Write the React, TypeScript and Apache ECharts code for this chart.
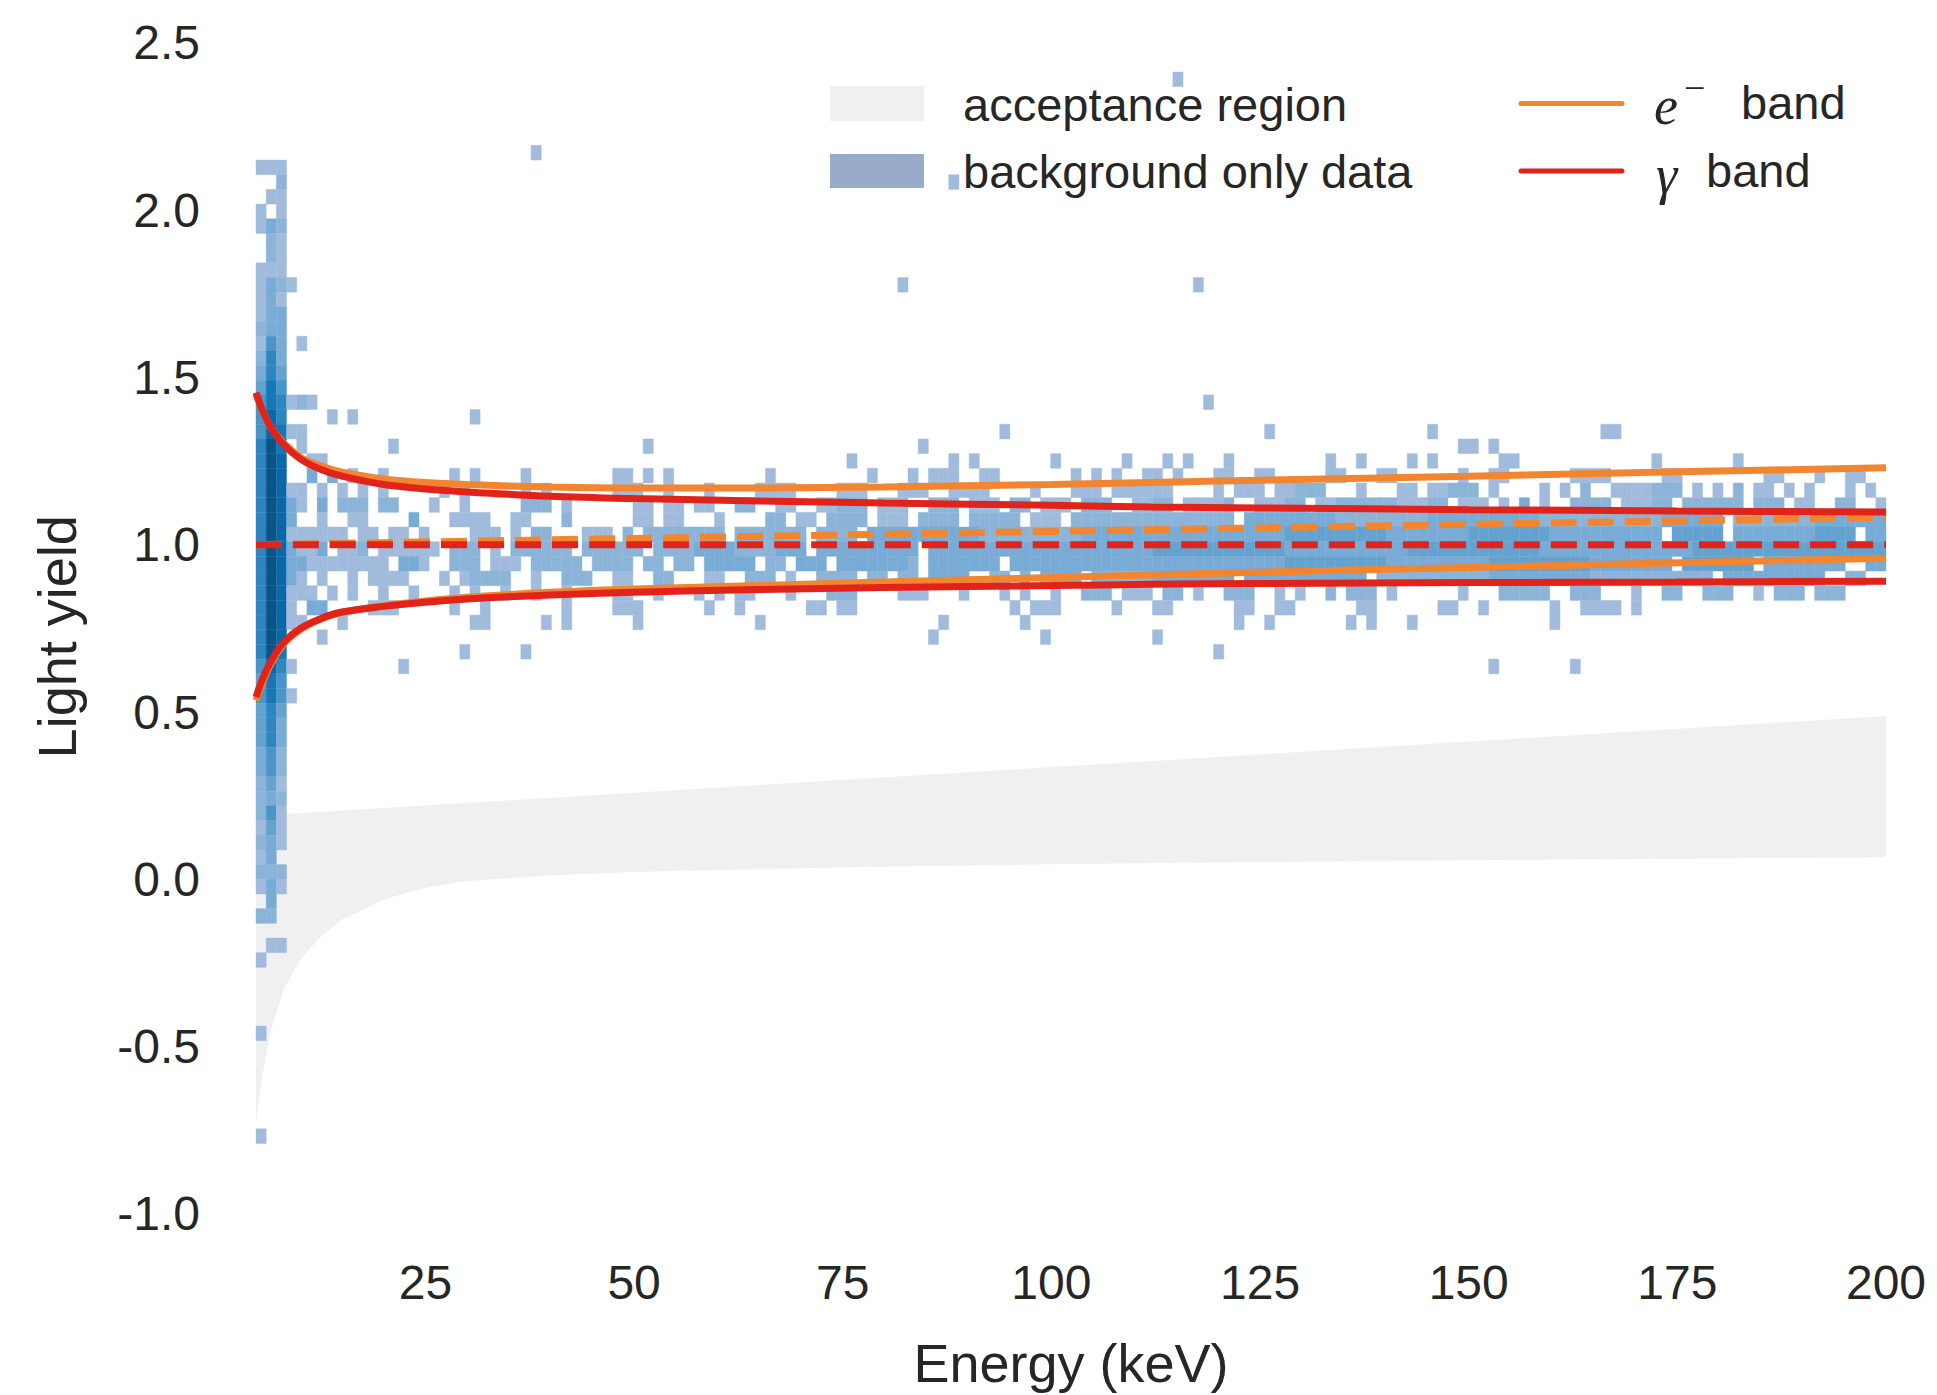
import React, { useEffect, useRef } from 'react';
import * as echarts from 'echarts';

// ---------- axes ----------
const X_MIN = 4.7;
const X_MAX = 200;
const Y_MIN = -1.05;
const Y_MAX = 2.5;
const X_TICKS = [25, 50, 75, 100, 125, 150, 175, 200];
const Y_TICKS = [-1.0, -0.5, 0.0, 0.5, 1.0, 1.5, 2.0, 2.5];

// ---------- 2D histogram binning ----------
const N_COLS = 160;
const BIN_W = (X_MAX - X_MIN) / N_COLS;
const Y_ORIGIN = -0.7894;
const BIN_H = 0.04387;
const PALETTE = ['#a0bbdc', '#8cb4d9', '#78abd5', '#64a2cf', '#4a95c8', '#2e86c1', '#1677b7', '#0a68a9', '#0b5488'];

// low-energy columns: [row index, cells from column 0; '.' = empty, digit = colour level]
const HIST_ROWS: [number, string][] = [
  [66, '111'],
  [65, '..2'],
  [64, '.11'],
  [63, '1.1'],
  [62, '132'],
  [61, '.21'],
  [60, '.21'],
  [59, '111'],
  [58, '1321'],
  [57, '131'],
  [56, '133'],
  [55, '233'],
  [54, '153.1'],
  [53, '263'],
  [52, '364'],
  [51, '475'],
  [50, '576121'],
  [49, '586....1.1'],
  [48, '58711'],
  [47, '697.1........1'],
  [46, '698..11'],
  [45, '698..3.3.1..1'],
  [44, '69811.1.1.1.1.....1'],
  [43, '69831.3.222.22...1'],
  [42, '6983..1..11....3'],
  [41, '698111111.11.11.1'],
  [40, '6983113.112.111111'],
  [39, '6983311111111.331'],
  [38, '69831.1..1.1111...1'],
  [37, '698111.1.1..1..1'],
  [36, '6981.33....111'],
  [35, '69811...1'],
  [34, '698...1'],
  [33, '697'],
  [32, '5861..........1'],
  [31, '475'],
  [30, '5751'],
  [29, '464'],
  [28, '463'],
  [27, '463'],
  [26, '352'],
  [25, '352'],
  [24, '241'],
  [23, '232'],
  [22, '251'],
  [21, '141'],
  [20, '231'],
  [19, '13.'],
  [18, '222'],
  [17, '131'],
  [16, '.3.'],
  [15, '22.'],
  [13, '.11'],
  [12, '1'],
  [7, '1'],
  [0, '1'],
];

// main band, columns 19..159: [row, [[first column, last column, level], ...]]
const BAND_RUNS: [number, [number, number, number][]][] = [
  [47, [[38, 38, 1], [118, 119, 1], [121, 121, 1]]],
  [46, [[58, 58, 1], [68, 68, 1], [70, 70, 1], [78, 78, 1], [85, 85, 1], [89, 89, 1], [91, 91, 1], [95, 95, 1], [105, 105, 1], [108, 108, 1], [113, 113, 1], [115, 115, 1], [122, 123, 1], [137, 137, 1], [145, 145, 1]]],
  [45, [[19, 19, 1], [21, 21, 1], [26, 26, 1], [35, 36, 1], [38, 38, 1], [40, 40, 1], [50, 50, 1], [60, 60, 1], [64, 64, 1], [66, 68, 1], [71, 72, 1], [80, 80, 1], [82, 82, 1], [84, 84, 1], [87, 88, 1], [90, 90, 1], [94, 95, 1], [98, 99, 1], [105, 106, 1], [110, 111, 1], [118, 118, 1], [121, 122, 1], [129, 132, 1], [138, 139, 1], [148, 149, 1], [153, 153, 1], [156, 157, 1]]],
  [44, [[20, 20, 1], [26, 26, 1], [28, 28, 1], [35, 37, 1], [40, 40, 1], [44, 44, 1], [49, 52, 1], [57, 59, 1], [63, 65, 1], [68, 71, 1], [76, 76, 1], [80, 82, 1], [84, 89, 1], [94, 94, 1], [96, 98, 1], [100, 101, 1], [102, 104, 2], [108, 108, 1], [112, 113, 1], [115, 116, 1], [117, 119, 2], [121, 121, 1], [126, 126, 1], [128, 128, 1], [130, 130, 2], [133, 136, 1], [137, 139, 2], [141, 141, 1], [143, 143, 1], [145, 145, 2], [147, 148, 1], [150, 150, 1], [152, 152, 1], [156, 156, 1], [158, 158, 1]]],
  [43, [[20, 20, 1], [26, 28, 2], [30, 30, 1], [37, 38, 1], [40, 41, 1], [43, 44, 1], [47, 48, 2], [51, 52, 1], [55, 56, 1], [57, 59, 2], [61, 63, 1], [66, 68, 2], [70, 72, 1], [74, 75, 2], [77, 79, 1], [81, 83, 2], [86, 87, 1], [88, 89, 2], [91, 94, 1], [95, 95, 2], [98, 100, 1], [101, 102, 2], [104, 105, 1], [106, 111, 2], [112, 114, 1], [115, 116, 2], [118, 120, 1], [122, 122, 1], [124, 124, 3], [126, 126, 1], [129, 132, 2], [134, 136, 1], [137, 138, 2], [140, 145, 2], [147, 149, 2], [151, 152, 1], [155, 156, 2], [159, 159, 1]]],
  [42, [[19, 22, 1], [25, 26, 1], [30, 30, 2], [37, 38, 1], [40, 41, 1], [45, 45, 1], [50, 51, 2], [53, 54, 1], [56, 59, 2], [61, 63, 1], [65, 68, 2], [70, 74, 2], [76, 78, 1], [80, 87, 2], [88, 95, 2], [97, 105, 3], [106, 114, 2], [115, 125, 3], [126, 137, 2], [138, 143, 3], [145, 152, 2], [153, 159, 3]]],
  [41, [[21, 23, 1], [25, 25, 1], [27, 28, 2], [32, 34, 1], [36, 36, 2], [38, 45, 2], [47, 53, 2], [55, 58, 2], [60, 70, 3], [71, 80, 2], [81, 87, 3], [88, 100, 3], [101, 110, 4], [111, 118, 3], [119, 126, 4], [127, 137, 3], [139, 143, 4], [145, 152, 3], [153, 156, 4], [158, 159, 3]]],
  [40, [[19, 21, 2], [23, 23, 1], [25, 30, 2], [32, 37, 2], [39, 42, 2], [43, 46, 3], [47, 50, 2], [51, 53, 3], [55, 64, 3], [66, 74, 3], [75, 87, 3], [88, 100, 4], [101, 112, 3], [113, 125, 4], [126, 140, 3], [141, 150, 4], [151, 159, 4]]],
  [39, [[19, 21, 2], [23, 25, 1], [27, 31, 2], [33, 36, 2], [38, 39, 2], [41, 42, 2], [44, 48, 3], [50, 51, 2], [53, 55, 3], [57, 63, 3], [64, 64, 2], [66, 72, 3], [74, 87, 3], [88, 100, 3], [101, 110, 4], [111, 120, 3], [121, 130, 4], [131, 138, 3], [140, 146, 4], [148, 155, 3], [158, 159, 3]]],
  [38, [[20, 20, 1], [21, 24, 2], [27, 27, 1], [30, 32, 2], [35, 36, 1], [39, 40, 2], [44, 45, 1], [48, 50, 2], [52, 52, 1], [55, 58, 2], [60, 61, 2], [63, 64, 2], [66, 69, 3], [72, 73, 2], [75, 75, 2], [77, 80, 3], [82, 87, 2], [88, 95, 3], [97, 108, 3], [110, 120, 2], [121, 130, 3], [131, 142, 2], [144, 153, 3], [156, 157, 2]]],
  [37, [[19, 19, 1], [21, 21, 1], [24, 24, 1], [27, 27, 1], [30, 30, 1], [35, 36, 1], [39, 39, 1], [43, 43, 1], [45, 45, 1], [47, 48, 1], [52, 52, 1], [56, 58, 2], [63, 65, 1], [69, 69, 1], [73, 73, 1], [75, 75, 1], [78, 78, 1], [81, 83, 2], [85, 87, 1], [89, 90, 2], [92, 92, 1], [95, 97, 2], [100, 100, 1], [102, 102, 1], [105, 105, 2], [107, 109, 2], [111, 111, 1], [118, 118, 1], [122, 126, 2], [129, 131, 2], [135, 135, 1], [138, 139, 2], [142, 144, 2], [147, 147, 1], [149, 151, 2], [153, 155, 2]]],
  [36, [[19, 19, 1], [22, 22, 1], [30, 30, 1], [35, 37, 1], [44, 44, 1], [47, 47, 1], [54, 55, 1], [57, 58, 1], [74, 74, 1], [76, 78, 1], [84, 84, 1], [88, 89, 1], [96, 97, 1], [100, 101, 1], [108, 109, 1], [116, 117, 1], [120, 120, 1], [127, 127, 1], [130, 133, 1], [135, 135, 1]]],
  [35, [[21, 22, 1], [28, 28, 1], [30, 30, 1], [49, 49, 1], [67, 67, 1], [75, 75, 1], [96, 96, 1], [99, 99, 1], [107, 107, 1], [109, 109, 1], [113, 113, 1], [127, 127, 1]]],
  [34, [[66, 66, 1]]],
];

// isolated cells: [column, row, level]
const OUTLIERS: [number, number, number][] = [
  [27, 67, 1], [90, 72, 1], [68, 65, 1], [63, 58, 1], [92, 58, 1], [93, 50, 1],
  [99, 48, 1], [21, 49, 1], [65, 47, 1], [73, 48, 1], [115, 48, 1], [132, 48, 1], [133, 48, 1],
  [20, 33, 1], [26, 33, 1], [37, 35, 1], [77, 34, 1], [88, 34, 1], [94, 33, 1], [121, 32, 1], [129, 32, 1],
];

// ---------- bands ----------
const BAND_E = [4.7, 5.5, 6.5, 8, 10, 12.5, 15, 20, 25, 30, 40, 50, 65, 80, 100, 112, 125, 150, 175, 200];
const GAMMA_UPPER = [1.455, 1.4, 1.35, 1.3, 1.257, 1.225, 1.205, 1.18, 1.167, 1.158, 1.145, 1.138, 1.131, 1.125, 1.118, 1.113, 1.11, 1.105, 1.101, 1.098];
const GAMMA_LOWER = [0.545, 0.6, 0.652, 0.708, 0.75, 0.78, 0.799, 0.816, 0.828, 0.838, 0.85, 0.858, 0.866, 0.872, 0.878, 0.882, 0.884, 0.887, 0.889, 0.891];
const ELEC_UPPER = [1.45, 1.4, 1.35, 1.305, 1.262, 1.235, 1.217, 1.197, 1.186, 1.18, 1.173, 1.17, 1.17, 1.173, 1.18, 1.186, 1.193, 1.205, 1.218, 1.23];
const ELEC_LOWER = [0.535, 0.59, 0.645, 0.703, 0.746, 0.778, 0.798, 0.818, 0.832, 0.843, 0.858, 0.868, 0.878, 0.889, 0.902, 0.91, 0.918, 0.932, 0.946, 0.96];
const CENTER_E = [4.7, 50, 100, 150, 200];
const ELEC_CENTER = [1.0, 1.019, 1.04, 1.061, 1.082];
const GAMMA_CENTER = [1.0, 1.0, 1.0, 1.0, 1.0];

// acceptance region
const ACC_LOWER_E = [4.7, 5.5, 6.5, 8, 10, 12.5, 15, 20, 25, 30, 40, 50, 75, 100, 125, 150, 175, 200];
const ACC_LOWER = [-0.73, -0.58, -0.45, -0.33, -0.24, -0.17, -0.12, -0.06, -0.025, -0.005, 0.012, 0.022, 0.036, 0.045, 0.052, 0.057, 0.062, 0.066];
const ACC_UPPER_E = [4.7, 200];
const ACC_UPPER = [0.19, 0.488];

const ORANGE = '#f28530';
const RED = '#e2231a';
const TEXT = '#262626';
const FONT = '"Liberation Sans", Arial, sans-serif';
const SERIF = '"Liberation Serif", serif';

function buildCells(): number[][] {
  const cells: number[][] = [];
  for (const [row, s] of HIST_ROWS) {
    for (let c = 0; c < s.length; c++) {
      const ch = s[c];
      if (ch >= '1' && ch <= '9') cells.push([c, row, Number(ch)]);
    }
  }
  for (const [row, runs] of BAND_RUNS) {
    for (const [a, b, lvl] of runs) {
      for (let c = a; c <= b; c++) cells.push([c, row, lvl]);
    }
  }
  for (const [c, row, lvl] of OUTLIERS) cells.push([c, row, lvl]);
  return cells;
}

const pairs = (xs: number[], ys: number[]) => xs.map((x, i) => [x, ys[i]]);

export default function App() {
  const ref = useRef<HTMLDivElement>(null);
  useEffect(() => {
    if (!ref.current) return;
    const chart = echarts.init(ref.current, undefined, { renderer: 'svg' });
    const cells = buildCells();

    const lineSeries = (name: string, data: number[][], color: string, dashed: boolean, z: number) => ({
      type: 'line',
      name,
      data,
      smooth: 0.35,
      showSymbol: false,
      symbol: 'none',
      z,
      lineStyle: { color, width: dashed ? 7 : 7, type: dashed ? [26, 11] : 'solid', cap: 'butt' },
      silent: true,
    });

    const option: any = {
      animation: false,
      backgroundColor: '#ffffff',
      grid: { left: 256, right: 1937 - 1886, top: 42.9, bottom: 1395 - 1230.7, containLabel: false },
      xAxis: {
        type: 'value',
        min: X_MIN,
        max: X_MAX,
        name: 'Energy (keV)',
        nameLocation: 'middle',
        nameGap: 105,
        nameTextStyle: { fontSize: 54, color: TEXT, fontFamily: FONT },
        axisLine: { show: false },
        axisTick: { show: false, customValues: X_TICKS },
        splitLine: { show: false },
        axisLabel: { customValues: X_TICKS, fontSize: 48, color: TEXT, fontFamily: FONT, margin: 28 },
      },
      yAxis: {
        type: 'value',
        min: Y_MIN,
        max: Y_MAX,
        name: 'Light yield',
        nameLocation: 'middle',
        nameGap: 172,
        nameTextStyle: { fontSize: 54, color: TEXT, fontFamily: FONT },
        axisLine: { show: false },
        axisTick: { show: false, customValues: Y_TICKS },
        splitLine: { show: false },
        axisLabel: {
          customValues: Y_TICKS,
          fontSize: 48,
          color: TEXT,
          fontFamily: FONT,
          margin: 56,
          formatter: (v: number) => v.toFixed(1),
        },
      },
      series: [
        {
          type: 'custom',
          name: 'acceptance region',
          z: 1,
          silent: true,
          clip: false,
          data: [[X_MIN, 0]],
          renderItem: (_p: any, api: any) => {
            const pts: number[][] = [];
            ACC_LOWER_E.forEach((e, i) => pts.push(api.coord([e, ACC_LOWER[i]])));
            for (let i = ACC_UPPER_E.length - 1; i >= 0; i--) pts.push(api.coord([ACC_UPPER_E[i], ACC_UPPER[i]]));
            return { type: 'polygon', shape: { points: pts, smooth: 0 }, style: { fill: '#f0f0f0' } };
          },
        },
        {
          type: 'custom',
          name: 'background only data',
          z: 2,
          silent: true,
          clip: false,
          data: cells,
          renderItem: (_p: any, api: any) => {
            const c = api.value(0);
            const r = api.value(1);
            const lvl = api.value(2);
            const x0 = X_MIN + c * BIN_W;
            const y0 = Y_ORIGIN + r * BIN_H;
            const a = api.coord([x0, y0 + BIN_H]);
            const b = api.coord([x0 + BIN_W, y0]);
            const col = PALETTE[lvl - 1];
            return {
              type: 'rect',
              shape: { x: a[0], y: a[1], width: b[0] - a[0], height: b[1] - a[1] },
              style: { fill: col, stroke: col, lineWidth: 0.4 },
            };
          },
        },
        lineSeries('e- center', pairs(CENTER_E, ELEC_CENTER), ORANGE, true, 3),
        lineSeries('gamma center', pairs(CENTER_E, GAMMA_CENTER), RED, true, 4),
        lineSeries('e- upper', pairs(BAND_E, ELEC_UPPER), ORANGE, false, 3),
        lineSeries('e- lower', pairs(BAND_E, ELEC_LOWER), ORANGE, false, 3),
        lineSeries('gamma upper', pairs(BAND_E, GAMMA_UPPER), RED, false, 4),
        lineSeries('gamma lower', pairs(BAND_E, GAMMA_LOWER), RED, false, 4),
      ],
      graphic: [
        { type: 'rect', shape: { x: 830, y: 86, width: 94, height: 35 }, style: { fill: '#f0f0f0' } },
        { type: 'rect', shape: { x: 830, y: 154, width: 94, height: 34 }, style: { fill: '#98abc8' } },
        { type: 'text', x: 963, y: 104, style: { text: 'acceptance region', fontSize: 47, fill: TEXT, fontFamily: FONT, verticalAlign: 'middle' } },
        { type: 'text', x: 963, y: 171, style: { text: 'background only data', fontSize: 47, fill: TEXT, fontFamily: FONT, verticalAlign: 'middle' } },
        { type: 'line', shape: { x1: 1521, y1: 103.5, x2: 1622, y2: 103.5 }, style: { stroke: ORANGE, lineWidth: 5, lineCap: 'round' } },
        { type: 'line', shape: { x1: 1521, y1: 171, x2: 1622, y2: 171 }, style: { stroke: RED, lineWidth: 5, lineCap: 'round' } },
        { type: 'text', x: 1654, y: 106, style: { text: 'e', fontSize: 54, fontStyle: 'italic', fill: TEXT, fontFamily: SERIF, verticalAlign: 'middle' } },
        { type: 'text', x: 1684, y: 88, style: { text: '\u2212', fontSize: 38, fill: TEXT, fontFamily: SERIF, verticalAlign: 'middle' } },
        { type: 'text', x: 1741, y: 102, style: { text: 'band', fontSize: 47, fill: TEXT, fontFamily: FONT, verticalAlign: 'middle' } },
        { type: 'text', x: 1656, y: 175, style: { text: '\u03b3', fontSize: 54, fontStyle: 'italic', fill: TEXT, fontFamily: SERIF, verticalAlign: 'middle' } },
        { type: 'text', x: 1706, y: 170, style: { text: 'band', fontSize: 47, fill: TEXT, fontFamily: FONT, verticalAlign: 'middle' } },
      ],
    };
    chart.setOption(option);
    return () => chart.dispose();
  }, []);
  return <div ref={ref} style={{ position: 'absolute', left: 0, top: 0, width: 1937, height: 1395 }} />;
}
